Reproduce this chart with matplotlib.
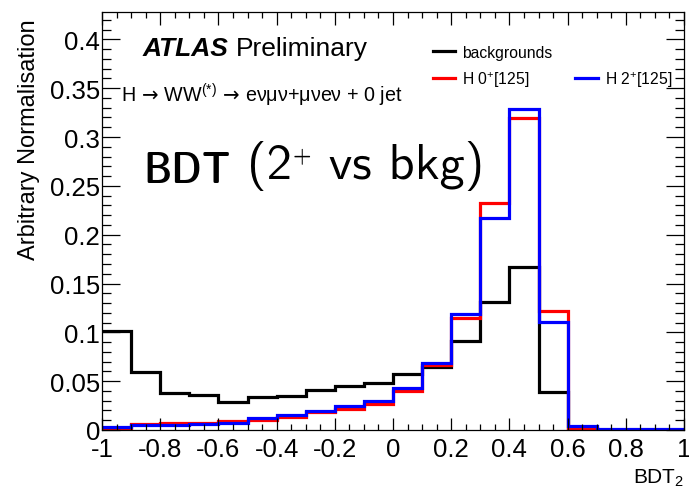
import numpy as np
import matplotlib
matplotlib.use("Agg")
import matplotlib.pyplot as plt
from matplotlib.lines import Line2D
from matplotlib.ticker import MultipleLocator, FuncFormatter

plt.rcParams["font.family"] = ["Liberation Sans", "DejaVu Sans"]
plt.rcParams["mathtext.fontset"] = "custom"
plt.rcParams["mathtext.rm"] = "Liberation Sans"
plt.rcParams["mathtext.it"] = "Liberation Sans:italic"
plt.rcParams["mathtext.bf"] = "Liberation Sans:bold"
plt.rcParams["mathtext.sf"] = "DejaVu Sans"
plt.rcParams["axes.unicode_minus"] = False

# BDT output, 20 bins between -1 and 1
bin_edges = np.linspace(-1.0, 1.0, 21)
backgrounds = [0.101, 0.059, 0.038, 0.036, 0.029, 0.034, 0.035, 0.041, 0.045, 0.048,
               0.057, 0.065, 0.091, 0.131, 0.167, 0.039, 0.0, 0.0, 0.0, 0.0]
higgs_0p = [0.002, 0.006, 0.007, 0.007, 0.009, 0.010, 0.013, 0.018, 0.022, 0.027,
            0.040, 0.067, 0.115, 0.232, 0.319, 0.122, 0.002, 0.0, 0.0, 0.0]
higgs_2p = [0.003, 0.005, 0.005, 0.006, 0.007, 0.012, 0.015, 0.019, 0.025, 0.030,
            0.043, 0.069, 0.119, 0.217, 0.329, 0.111, 0.004, 0.001, 0.001, 0.001]

fig = plt.figure(figsize=(6.89, 4.89), dpi=100)
ax = fig.add_axes([102 / 689, 1 - 431 / 489, 582 / 689, 418 / 489])

lw = 2.3
ax.stairs(backgrounds, bin_edges, color="black", linewidth=lw, baseline=None)
ax.stairs(higgs_0p, bin_edges, color="#ff0000", linewidth=lw, baseline=None)
ax.stairs(higgs_2p, bin_edges, color="#0000ff", linewidth=lw, baseline=None)

ax.set_xlim(-1, 1)
ax.set_ylim(0, 0.428)

# ROOT-style axes: inward ticks on all four sides
fmt = FuncFormatter(lambda v, p: "%g" % round(v, 3))
ax.xaxis.set_major_locator(MultipleLocator(0.2))
ax.xaxis.set_minor_locator(MultipleLocator(0.05))
ax.yaxis.set_major_locator(MultipleLocator(0.05))
ax.yaxis.set_minor_locator(MultipleLocator(0.01))
ax.xaxis.set_major_formatter(fmt)
ax.yaxis.set_major_formatter(fmt)
ax.tick_params(which="both", direction="in", top=True, right=True, width=0.9)
ax.tick_params(axis="x", which="major", length=9, pad=5, labelsize=18.5)
ax.tick_params(axis="x", which="minor", length=4.5)
ax.tick_params(axis="y", which="major", length=13, pad=1.5, labelsize=18.5)
ax.tick_params(axis="y", which="minor", length=6.5)
for s in ax.spines.values():
    s.set_linewidth(0.9)

ax.set_xlabel("BDT$_{2}$", loc="right", fontsize=15, labelpad=4)
ax.set_ylabel("Arbitrary Normalisation", loc="top", fontsize=17, labelpad=7)
ax.yaxis.label.set_y(0.985)

# experiment label and channel
ax.annotate("ATLAS", xy=(143, 489 - 56), xycoords="figure pixels", fontsize=19,
            fontweight="bold", fontstyle="italic", va="baseline")
ax.annotate("Preliminary", xy=(236, 489 - 56), xycoords="figure pixels",
            fontsize=19, va="baseline")
arrow = r"$\,\mathsf{\rightarrow}\,$"
ax.annotate("H" + arrow + "WW$^{(*)}$" + arrow + "eνμν+μνeν + 0 jet",
            xy=(121, 489 - 103), xycoords="figure pixels", fontsize=14.2, va="baseline")

# legend in two columns, the top-right slot left empty
blank = Line2D([], [], linestyle="none")
ax.legend([Line2D([], [], color="black", lw=lw), Line2D([], [], color="#ff0000", lw=lw),
           blank, Line2D([], [], color="#0000ff", lw=lw)],
          ["backgrounds", "H 0$^{+}$[125]", "", "H 2$^{+}$[125]"],
          ncol=2, loc="upper left", bbox_to_anchor=(0.568, 0.922), frameon=False,
          fontsize=11.3, handlelength=1.45, handletextpad=0.45, columnspacing=1.45,
          labelspacing=0.6, borderpad=0, borderaxespad=0)

# large caption in Latin Modern Sans
lm_bold = ["Latin Modern Sans Demi Cond", "DejaVu Sans"]
lm_reg = ["Latin Modern Sans", "DejaVu Sans"]
t1 = ax.annotate("BDT", xy=(143, 489 - 183), xycoords="figure pixels", family=lm_bold,
                 fontweight="semibold", fontstretch="condensed", fontsize=32, va="baseline")
t2 = ax.annotate(" (2", xy=(1, 0), xycoords=t1, family=lm_reg, fontsize=36.5, va="bottom")
t3 = ax.annotate("+", xy=(1, 1), xycoords=t2, xytext=(0.5, -4), textcoords="offset points",
                 family=lm_reg, fontsize=17, va="top")
ax.annotate(" vs bkg)", xy=(1, 0), xycoords=(t3, t2), family=lm_reg, fontsize=36.5,
            va="bottom")

fig.savefig("out.png", dpi=100)
